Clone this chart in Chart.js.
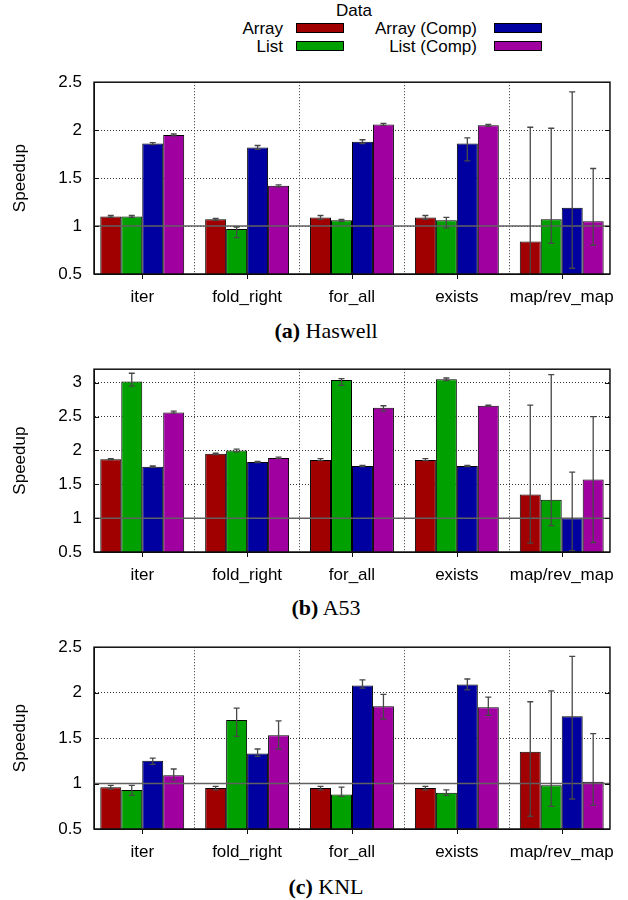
<!DOCTYPE html>
<html>
<head>
  <title>Speedup</title>
  <style>
    body {
      margin: 0;
      background: #fff;
      font-family: "Liberation Sans", Arial, sans-serif;
    }
    #page {
      position: relative;
      width: 628px;
      height: 900px;
    }
    canvas {
      position: absolute;
      left: 0;
    }
    .txt {
      position: absolute;
      font-size: 17px;
      line-height: 20px;
      color: #000;
      white-space: nowrap;
    }
    .sw {
      position: absolute;
      width: 46px;
      height: 8px;
      border: 1px solid #000;
    }
    .cap {
      position: absolute;
      left: 26px;
      width: 600px;
      text-align: center;
      font-family: "Liberation Serif", "Times New Roman", serif;
      font-size: 22px;
      line-height: 26px;
    }
  </style>
</head>
<body>
<div id="page">
  <!-- legend -->
  <div class="txt" style="left:300px;width:108px;text-align:center;top:1px">Data</div>
  <div class="txt" style="right:345px;top:19px">Array</div>
  <div class="txt" style="right:345px;top:37px">List</div>
  <div class="txt" style="right:151px;top:19px">Array (Comp)</div>
  <div class="txt" style="right:151px;top:37px">List (Comp)</div>
  <div class="sw" style="left:296px;top:23px;background:#a00000"></div>
  <div class="sw" style="left:296px;top:41px;background:#00a000"></div>
  <div class="sw" style="left:494px;top:23px;background:#0000a0"></div>
  <div class="sw" style="left:494px;top:41px;background:#a000a0"></div>

  <canvas id="haswell" width="628" height="252" style="top:60px"></canvas>
  <div class="cap" style="top:318px"><b>(a)</b> Haswell</div>

  <canvas id="a53" width="628" height="243" style="top:347px"></canvas>
  <div class="cap" style="top:595px"><b>(b)</b> A53</div>

  <canvas id="knl" width="628" height="242" style="top:625px"></canvas>
  <div class="cap" style="top:874px"><b>(c)</b> KNL</div>
</div>

<script src="https://cdn.jsdelivr.net/npm/chart.js"></script>
<script>
  const categories = ['iter', 'fold_right', 'for_all', 'exists', 'map/rev_map'];
  const seriesNames = ['Array', 'List', 'Array (Comp)', 'List (Comp)'];
  const seriesColors = ['#a00000', '#00a000', '#0000a0', '#a000a0'];

  // rows follow seriesNames, columns follow categories
  const haswellMean = [
    [1.10, 1.07, 1.09, 1.09, 0.84],
    [1.10, 0.97, 1.06, 1.06, 1.07],
    [1.86, 1.82, 1.88, 1.86, 1.19],
    [1.95, 1.42, 2.06, 2.05, 1.05]
  ];
  const haswellLow = [
    [1.09, 1.06, 1.07, 1.07, -0.35],
    [1.09, 0.88, 1.05, 0.98, 0.82],
    [1.85, 1.80, 1.86, 1.68, 0.56],
    [1.94, 1.41, 2.05, 2.04, 0.80]
  ];
  const haswellHigh = [
    [1.11, 1.08, 1.11, 1.11, 2.03],
    [1.11, 0.99, 1.07, 1.09, 2.02],
    [1.87, 1.84, 1.90, 1.92, 2.40],
    [1.96, 1.43, 2.07, 2.06, 1.60]
  ];

  const a53Mean = [
    [1.87, 1.95, 1.86, 1.86, 1.35],
    [3.02, 2.00, 3.04, 3.05, 1.27],
    [1.76, 1.83, 1.77, 1.77, 1.00],
    [2.56, 1.89, 2.63, 2.66, 1.57]
  ];
  const a53Low = [
    [1.86, 1.94, 1.85, 1.85, 0.63],
    [2.95, 1.98, 2.96, 3.03, 0.89],
    [1.75, 1.82, 1.76, 1.76, 0.52],
    [2.55, 1.88, 2.58, 2.65, 0.64]
  ];
  const a53High = [
    [1.88, 1.96, 1.88, 1.88, 2.67],
    [3.14, 2.02, 3.06, 3.07, 3.12],
    [1.77, 1.84, 1.78, 1.78, 1.68],
    [2.58, 1.90, 2.66, 2.67, 2.50]
  ];

  const knlMean = [
    [0.96, 0.95, 0.95, 0.95, 1.35],
    [0.93, 1.70, 0.88, 0.90, 0.98],
    [1.25, 1.33, 2.08, 2.09, 1.74],
    [1.09, 1.53, 1.85, 1.84, 1.02]
  ];
  const knlLow = [
    [0.94, 0.93, 0.93, 0.93, 0.64],
    [0.87, 1.52, 0.86, 0.87, 0.75],
    [1.21, 1.30, 2.05, 2.03, 0.83],
    [1.04, 1.38, 1.71, 1.75, 0.76]
  ];
  const knlHigh = [
    [0.98, 0.97, 0.97, 0.97, 1.90],
    [0.98, 1.83, 0.96, 0.93, 2.02],
    [1.28, 1.38, 2.14, 2.15, 2.40],
    [1.16, 1.69, 1.98, 1.95, 1.55]
  ];

  const yTicksHaswell = [0.5, 1, 1.5, 2, 2.5];
  const yTicksA53 = [0.5, 1, 1.5, 2, 2.5, 3];
  const yTicksKNL = [0.5, 1, 1.5, 2, 2.5];

  Chart.defaults.font.family = '"Liberation Sans", Arial, sans-serif';
  Chart.defaults.font.size = 17;
  Chart.defaults.color = '#000';

  // error bars, the line at 1, the frame and the little tick marks
  const extras = {
    id: 'extras',
    afterDatasetsDraw(chart) {
      const ctx = chart.ctx;
      const area = chart.chartArea;
      const x = chart.scales.x;
      const y = chart.scales.y;

      ctx.save();
      ctx.beginPath();
      ctx.rect(area.left, area.top - 1, area.right - area.left, area.bottom - area.top + 2);
      ctx.clip();

      // reference line at speedup 1
      ctx.strokeStyle = '#606060';
      ctx.lineWidth = 1.5;
      ctx.beginPath();
      ctx.moveTo(area.left, y.getPixelForValue(1));
      ctx.lineTo(area.right, y.getPixelForValue(1));
      ctx.stroke();

      // error bars
      ctx.strokeStyle = '#474747';
      ctx.lineWidth = 1.3;
      chart.data.datasets.forEach((ds, i) => {
        const meta = chart.getDatasetMeta(i);
        meta.data.forEach((bar, j) => {
          const yl = y.getPixelForValue(ds.low[j]);
          const yh = y.getPixelForValue(ds.high[j]);
          ctx.beginPath();
          ctx.moveTo(bar.x, yl);
          ctx.lineTo(bar.x, yh);
          ctx.moveTo(bar.x - 3, yl);
          ctx.lineTo(bar.x + 3, yl);
          ctx.moveTo(bar.x - 3, yh);
          ctx.lineTo(bar.x + 3, yh);
          ctx.stroke();
        });
      });
      ctx.restore();

      ctx.save();
      ctx.strokeStyle = '#111';
      ctx.lineWidth = 1;
      // y ticks, inward on both sides
      chart.options.scales.y.tickValues.forEach(v => {
        const py = Math.round(y.getPixelForValue(v)) + 0.5;
        ctx.beginPath();
        ctx.moveTo(area.left, py);
        ctx.lineTo(area.left + 5, py);
        ctx.moveTo(area.right, py);
        ctx.lineTo(area.right - 5, py);
        ctx.stroke();
      });
      // x ticks below the axis at each group
      categories.forEach((c, i) => {
        const px = Math.round(x.getPixelForValue(i)) + 0.5;
        ctx.beginPath();
        ctx.moveTo(px, area.bottom);
        ctx.lineTo(px, area.bottom + 5);
        ctx.stroke();
      });
      // frame
      ctx.lineWidth = 1.5;
      ctx.strokeRect(area.left, area.top, area.right - area.left, area.bottom - area.top);
      ctx.restore();
    }
  };

  function makeChart(id, mean, low, high, yTicks, yMax) {
    const datasets = seriesNames.map((name, s) => ({
      label: name,
      data: mean[s].map((v, i) => ({ x: i, y: v })),
      low: low[s],
      high: high[s],
      backgroundColor: seriesColors[s],
      borderColor: '#000',
      borderWidth: 1,
      categoryPercentage: 0.8,
      barPercentage: 1.0
    }));

    return new Chart(document.getElementById(id), {
      type: 'bar',
      data: { datasets },
      options: {
        responsive: false,
        animation: false,
        events: [],
        layout: { padding: { top: 11, right: 14, left: 0, bottom: 0 } },
        plugins: {
          legend: { display: false },
          tooltip: { enabled: false }
        },
        scales: {
          x: {
            type: 'linear',
            offset: false,
            min: -0.46,
            max: 4.46,
            afterBuildTicks: s => { s.ticks = categories.map((c, i) => ({ value: i })); },
            afterFit: s => { s.height = 38; },
            ticks: {
              callback: v => categories[v],
              padding: 13,
              maxRotation: 0,
              autoSkip: false
            },
            grid: { offset: true, drawTicks: false, color: '#333', lineWidth: 1 },
            border: { color: '#000', width: 1, dash: [1, 2] }
          },
          y: {
            min: 0.5,
            max: yMax,
            tickValues: yTicks,
            afterBuildTicks: s => { s.ticks = yTicks.map(v => ({ value: v })); },
            afterFit: s => { s.width = 94; },
            ticks: { padding: 12, callback: v => String(v) },
            grid: { drawTicks: false, color: '#333', lineWidth: 1 },
            border: { color: '#000', width: 1, dash: [1, 2] },
            title: {
              display: true,
              text: 'Speedup',
              padding: { top: 10, bottom: 0 },
              font: { size: 17 }
            }
          }
        }
      },
      plugins: [extras]
    });
  }

  makeChart('haswell', haswellMean, haswellLow, haswellHigh, yTicksHaswell, 2.5);
  makeChart('a53', a53Mean, a53Low, a53High, yTicksA53, 3.2);
  makeChart('knl', knlMean, knlLow, knlHigh, yTicksKNL, 2.5);
</script>
</body>
</html>
